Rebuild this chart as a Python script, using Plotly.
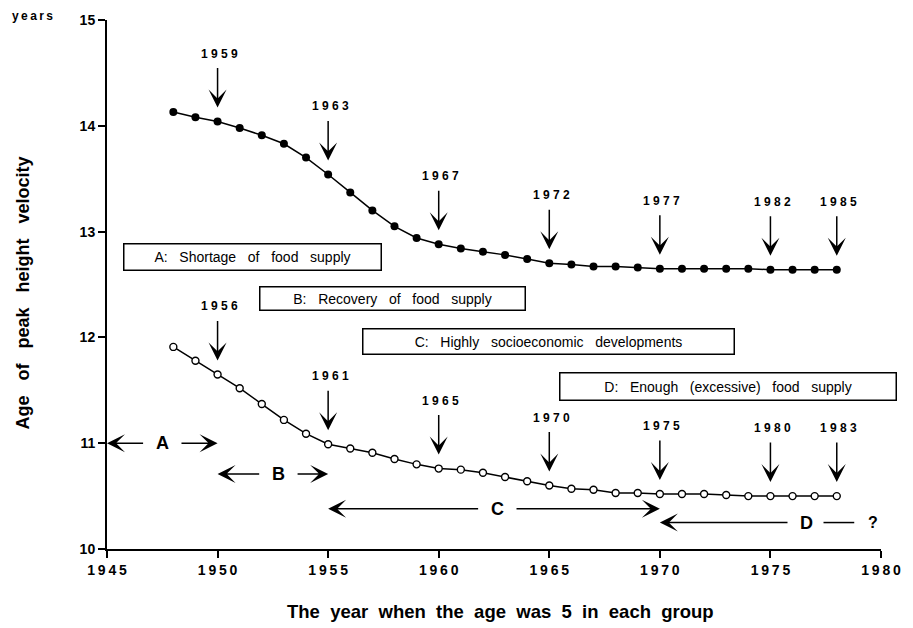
import plotly.graph_objects as go

# ---- data -------------------------------------------------------------
# cohort year (year in which the group was aged 5)
years = list(range(1948, 1979))

# age of peak height velocity (years), upper series (filled markers)
age_phv_upper = [14.13, 14.08, 14.04, 13.98, 13.91, 13.83, 13.70, 13.54, 13.37, 13.20,
                 13.05, 12.94, 12.88, 12.84, 12.81, 12.78, 12.74, 12.70, 12.69, 12.67,
                 12.67, 12.66, 12.65, 12.65, 12.65, 12.65, 12.65, 12.64, 12.64, 12.64,
                 12.64]

# age of peak height velocity (years), lower series (open markers)
age_phv_lower = [11.91, 11.78, 11.65, 11.52, 11.37, 11.22, 11.09, 10.99, 10.95, 10.91,
                 10.85, 10.80, 10.76, 10.75, 10.72, 10.68, 10.64, 10.60, 10.57, 10.56,
                 10.53, 10.53, 10.52, 10.52, 10.52, 10.51, 10.50, 10.50, 10.50, 10.50,
                 10.50]

# survey years marked with arrows on each curve
upper_marked_years = [1950, 1955, 1960, 1965, 1970, 1975, 1978]
upper_marked_labels = ["1959", "1963", "1967", "1972", "1977", "1982", "1985"]
lower_marked_years = [1950, 1955, 1960, 1965, 1970, 1975, 1978]
lower_marked_labels = ["1956", "1961", "1965", "1970", "1975", "1980", "1983"]

# periods of food supply
period_names = ["A", "B", "C", "D"]
period_start = [1945, 1950, 1955, 1970]
period_end = [1950, 1955, 1970, None]          # D is open-ended
period_texts = ["A: Shortage of food supply",
                "B: Recovery of food supply",
                "C: Highly socioeconomic developments",
                "D: Enough (excessive) food supply"]

x_ticks = [1945, 1950, 1955, 1960, 1965, 1970, 1975, 1980]
y_ticks = [10, 11, 12, 13, 14, 15]

# ---- layout helpers ----------------------------------------------------
FONT = "Liberation Sans, Arial, Helvetica, sans-serif"
NBSP = "\u00a0"
THIN = "\u2009"


def tracked(text, sep):
    return sep.join(text)


def wide_words(text, n):
    return (NBSP * n).join(text.split(" "))


ARROW = dict(arrowhead=3, arrowsize=2.0, arrowwidth=1.5, arrowcolor="black")

# placement of the period arrows (level on the y axis, x of the letter)
period_level = [11.0, 10.71, 10.38, 10.25]
period_label_x = [1947.5, 1952.75, 1962.65, 1976.64]
label_gap = 0.8

# description boxes: centre (data units) and outer size (px)
box_center = [(1951.57, 12.756), (1957.93, 12.364), (1964.97, 11.962), (1973.10, 11.538)]
box_size = [(259, 28), (267, 25), (373, 27), (338, 29)]

fig = go.Figure()

fig.add_trace(go.Scatter(
    x=years, y=age_phv_upper, mode="lines+markers",
    line=dict(color="black", width=1.5),
    marker=dict(symbol="circle", size=8, color="black"),
    hoverinfo="x+y"))

fig.add_trace(go.Scatter(
    x=years, y=age_phv_lower, mode="lines+markers",
    line=dict(color="black", width=1.5),
    marker=dict(symbol="circle", size=7, color="white",
                line=dict(color="black", width=1.4)),
    hoverinfo="x+y"))

annotations = []
shapes = []

# vertical arrows with survey years
for marked, labels, series in ((upper_marked_years, upper_marked_labels, age_phv_upper),
                               (lower_marked_years, lower_marked_labels, age_phv_lower)):
    for yr, lab in zip(marked, labels):
        val = series[years.index(yr)]
        annotations.append(dict(
            x=yr, y=val, xref="x", yref="y", text="", showarrow=True,
            ax=0, ay=-55, standoff=14, **ARROW))
        annotations.append(dict(
            x=yr, y=val, xref="x", yref="y", showarrow=False,
            text=tracked(lab, NBSP), yshift=68, xshift=2,
            font=dict(family=FONT, size=12, color="black", weight="bold")))

# period arrows  <-- A -->
for name, start, end, level, lx in zip(period_names, period_start, period_end,
                                       period_level, period_label_x):
    annotations.append(dict(
        x=lx, y=level, xref="x", yref="y", showarrow=False, text=name,
        font=dict(family=FONT, size=18, color="black", weight="bold")))
    annotations.append(dict(
        x=start, y=level, ax=lx - label_gap, ay=level, xref="x", yref="y",
        axref="x", ayref="y", text="", showarrow=True, standoff=0, **ARROW))
    if end is not None:
        annotations.append(dict(
            x=end, y=level, ax=lx + label_gap, ay=level, xref="x", yref="y",
            axref="x", ayref="y", text="", showarrow=True, standoff=0, **ARROW))
    else:
        shapes.append(dict(type="line", xref="x", yref="y",
                           x0=lx + 0.76, x1=lx + 2.15, y0=level, y1=level,
                           line=dict(color="black", width=1.5)))
        annotations.append(dict(
            x=lx + 3.0, y=level, xref="x", yref="y", showarrow=False, text="?",
            font=dict(family=FONT, size=16, color="black", weight="bold")))

# description boxes
for txt, (cx, cy), (w, h) in zip(period_texts, box_center, box_size):
    annotations.append(dict(
        x=cx, y=cy, xref="x", yref="y", showarrow=False,
        text=wide_words(txt, 3), width=w - 3, height=h - 3,
        align="center", valign="middle", borderpad=0,
        bordercolor="black", borderwidth=1.5, bgcolor="rgba(0,0,0,0)",
        font=dict(family=FONT, size=14, color="black")))

# axis titles and unit
annotations.append(dict(
    x=-0.1084, y=0.483, xref="paper", yref="paper", showarrow=False,
    xanchor="center", yanchor="middle",
    text=wide_words("Age of peak height velocity", 3), textangle=-90,
    font=dict(family=FONT, size=18, color="black", weight="bold")))
annotations.append(dict(
    x=0.509, y=-0.118, xref="paper", yref="paper", showarrow=False,
    xanchor="center", yanchor="middle",
    text=wide_words("The year when the age was 5 in each group", 2),
    font=dict(family=FONT, size=18.5, color="black", weight="bold")))
annotations.append(dict(
    x=-0.0957, y=1.0075, xref="paper", yref="paper", showarrow=False,
    xanchor="center", yanchor="middle",
    text=tracked("years", THIN),
    font=dict(family=FONT, size=12, color="black", weight="bold")))

fig.update_layout(
    width=913, height=628,
    margin=dict(l=107, r=22, t=17, b=79),
    paper_bgcolor="white", plot_bgcolor="white",
    showlegend=False,
    annotations=annotations, shapes=shapes,
    xaxis=dict(range=[1945, 1980], tickvals=x_ticks,
               ticktext=[tracked(str(t), THIN) for t in x_ticks],
               ticks="outside", ticklen=7, tickwidth=2, tickcolor="black",
               showline=True, linewidth=2, linecolor="black",
               showgrid=False, zeroline=False,
               tickfont=dict(family=FONT, size=14, color="black", weight="bold")),
    yaxis=dict(range=[10, 15], tickvals=y_ticks,
               ticktext=[str(t) for t in y_ticks],
               ticks="outside", ticklen=7, tickwidth=2, tickcolor="black",
               showline=True, linewidth=2, linecolor="black",
               showgrid=False, zeroline=False,
               tickfont=dict(family=FONT, size=14, color="black", weight="bold")),
)

fig.write_html("out.html")
